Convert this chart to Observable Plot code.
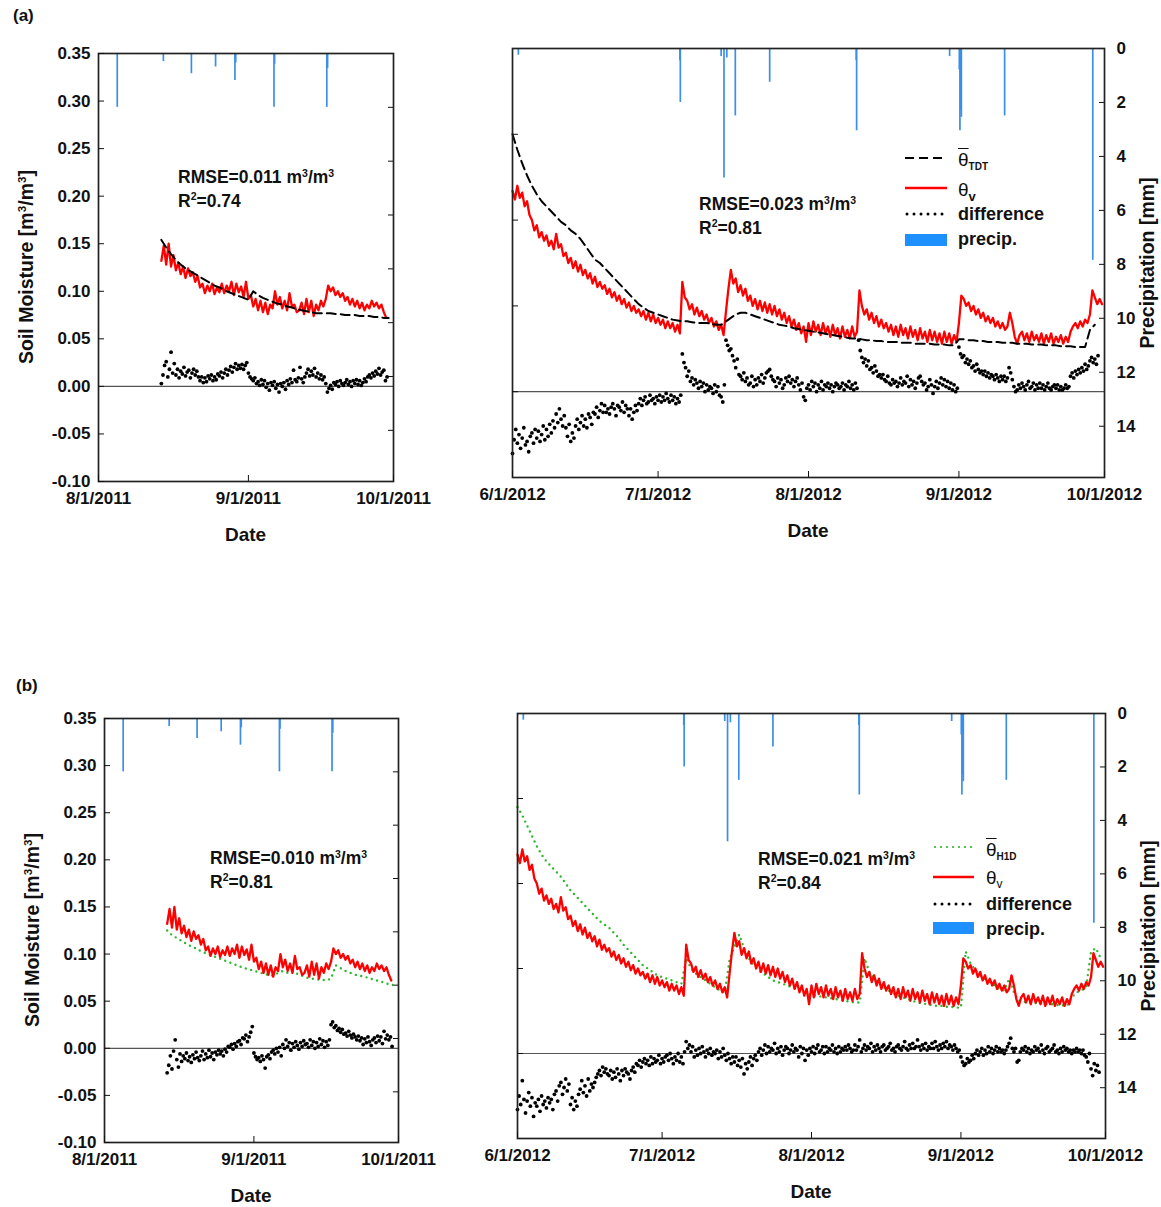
<!DOCTYPE html>
<html><head><meta charset="utf-8">
<script src="https://cdn.jsdelivr.net/npm/d3@7"></script>
<script src="https://cdn.jsdelivr.net/npm/@observablehq/plot@0.6"></script>
<style>
html,body{margin:0;padding:0;background:#fff;}
#page{position:relative;width:1161px;height:1207px;background:#fff;overflow:hidden;
 font-family:"Liberation Sans",Arial,Helvetica,sans-serif;font-weight:bold;color:#111;}
.abs{position:absolute;white-space:nowrap;}
.ctr{transform:translate(-50%,-50%);}
.rot{transform:translate(-50%,-50%) rotate(-90deg);font-size:19.5px;}
.ttl{font-size:19px;}
.ann{font-size:17.5px;line-height:21.7px;}
.sup{font-size:0.6em;position:relative;top:-0.6em;}
.lg{font-size:18px;transform:translateY(-50%);}
.th{font-weight:normal;font-size:19px;}
.sub{font-size:10px;font-weight:bold;position:relative;top:0.35em;}
</style></head>
<body><div id="page"></div>
<script>
// ---------------- DATA (moisture values in 10^-3 m3/m3) ----------------
const leftXTicks = ["2011-08-01","2011-09-01","2011-10-01"];
const rightXTicks = ["2012-06-01","2012-07-01","2012-08-01","2012-09-01","2012-10-01"];
const leftYTicks = [-0.10,-0.05,0,0.05,0.10,0.15,0.20,0.25,0.30,0.35];
const rightYTicks = [0,0.05,0.10,0.15];
const precipTicks = [0,2,4,6,8,10,12,14];

// 2011 : observed theta_v (12-hourly from 2011-08-14 00:00)
const thetaV2011 = [132,148,128,150,126,138,122,130,118,126,114,124,116,120,110,116,104,108,98,106,
100,108,97,104,99,108,98,106,100,110,96,108,99,105,94,110,92,96,84,92,80,90,78,88,76,86,82,100,86,94,
82,90,80,98,84,86,78,80,88,76,92,78,90,74,86,80,90,84,92,106,100,104,96,100,94,98,90,94,86,92,
84,90,82,88,80,86,82,90,84,88,82,86,78,72];
// 2011 : TDT mean (daily from 2011-08-14)
const thetaTDT2011 = [154,146,139,133,128,124,121,118,115,112,109,106,104,101,99,97,95,93,91,
100,96,93,91,89,87,86,84,83,81,80,79,78,77,77,77,77,76,76,75,75,75,74,74,74,73,73,72,72];
// 2011 : H1D mean (daily from 2011-08-14)
const thetaH1D2011 = [125,120,117,114,111,108,106,103,101,99,97,95,93,91,89,87,85,84,82,81,79,78,77,
80,82,80,82,79,77,75,74,73,73,72,74,88,85,82,80,78,77,76,74,73,71,70,68,67];
// 2011 : differences (8-hourly from 2011-08-14 00:00)
const diffTDT2011 = [3,12,22,26,10,18,36,14,24,12,18,9,16,13,20,11,15,17,9,14,18,12,16,10,6,10,4,9,5,11,
8,12,6,10,7,13,11,15,9,14,18,12,17,21,15,20,24,18,22,19,23,18,22,25,14,10,8,6,9,3,5,1,7,2,6,-1,3,-4,4,
1,5,-2,2,-6,3,0,4,-3,6,2,8,4,17,7,5,9,20,8,4,10,14,18,11,16,12,19,10,14,8,12,7,10,3,-6,-2,1,-3,4,
2,5,0,6,3,1,4,7,2,5,0,6,3,7,2,6,1,4,8,5,10,12,9,14,11,16,13,19,12,15,17,6,10];
const diffH1D2011 = [-26,-18,-8,-22,-3,9,-12,-20,-6,-14,-8,-11,-5,-13,-9,-15,-7,-11,-4,-10,-13,-8,-3,-12,
-6,-10,-2,-9,-5,-12,-4,-7,-2,-6,-3,-8,-1,-4,2,1,4,-1,5,2,7,8,4,11,10,14,7,12,17,23,-5,-9,-12,-10,-14,-8,
-12,-21,-9,-7,-11,-4,-2,-6,0,-4,1,-8,4,0,9,2,6,-2,5,1,7,3,-1,6,2,8,4,5,1,9,3,7,0,6,2,10,4,8,1,7,3,9,
25,28,22,24,19,21,17,20,15,16,13,18,14,11,15,12,9,13,8,11,4,10,6,12,7,3,9,11,6,13,8,12,5,18,10,14,9,12,2];
const precip2011Dates = ["2011-08-04T21:00Z","2011-08-14T10:00Z","2011-08-20T05:00Z","2011-08-25T05:00Z",
"2011-08-29T05:00Z","2011-08-29T09:00Z","2011-09-06T07:00Z","2011-09-06T10:00Z","2011-09-17T05:00Z","2011-09-17T09:00Z"];
const precip2011mm = [2.0,0.3,0.75,0.5,1.0,0.35,2.0,0.4,2.0,0.55];

// 2012 : observed theta_v (12-hourly from 2012-06-01 00:00)
const thetaV2012 = [117,112,120,113,116,108,111,103,100,94,97,90,93,88,91,85,88,83,92,84,
86,79,81,75,78,72,76,70,74,68,71,66,69,63,67,61,64,60,62,57,60,55,58,53,56,51,54,49,52,47,
50,46,48,44,47,42,46,41,45,40,43,39,42,37,41,37,40,35,39,34,64,55,53,48,51,45,49,44,47,42,
45,40,43,38,41,36,39,33,47,60,71,63,66,58,62,56,60,53,56,50,54,48,53,47,52,46,51,45,50,44,
48,42,46,40,44,38,42,36,40,34,38,29,40,33,41,35,39,33,40,34,38,32,39,33,37,31,38,32,36,31,
38,32,35,59,50,45,48,42,46,40,44,38,42,37,40,35,39,33,38,32,39,33,37,31,38,32,36,30,37,31,
35,29,36,30,35,29,34,28,35,29,34,28,33,29,40,56,54,50,52,47,50,45,48,43,46,41,44,40,43,38,
41,37,40,36,38,46,40,32,28,33,35,30,34,29,35,30,33,29,34,28,33,29,34,28,32,29,33,28,32,29,
35,38,40,37,41,38,42,40,45,59,55,51,54,51];
// 2012 : TDT mean (daily from 2012-06-01)
const thetaTDT2012 = [150,141,133,126,120,115,111,108,105,102,99,97,94,92,89,85,81,77,75,72,69,66,63,60,57,54,51,49,47,46,45,44,43,42,41.5,
41,41,40.5,40,40,40,39.5,39,39,41,43,45,46,46,
45,44,43,42,41,40,39,38.5,38,37,36.5,36,35.5,35,34.5,34,33.5,33,32.5,32,31.5,31,31,
30.5,30,30,29.5,29.5,29,29,29,28.5,28.5,28.5,28,28,28,28,27.5,27.5,27.5,27,27,
30.5,30.5,30,30,29.5,29.5,29,29,29,28.5,28.5,28.5,28,28,28,27.5,27.5,27.5,27,27,27,26.5,26.5,26.5,26,26,26,36,39];
// 2012 : H1D mean (daily from 2012-06-01)
const thetaH1D2012 = [145,140,134,128,122,117,113,110,107,104,100,96,93,90,87,84,81,78,76,74,71,68,64,61,58,55,52,50,48,46,45,44,43,42,41,
56,50,47,45,43,41,39,37,36,
55,63,70,62,56,52,49,47,45,43,42,41,40,39,38,
36,35,34.5,34,33.5,33,32.5,32,31.5,31,30.5,30,
30,56,48,44,41,39,37,35.5,34,33,32,31,30,29.5,29,28.5,28,28,27.5,27.5,27,
27,60,53,49,46,44,42,40,38,37,44,36,
31,30.5,30,30,29.5,29.5,29,29,28.5,28.5,28,
33,36,37,39,60,62,56];
// 2012 : differences (8-hourly from 2012-06-01 00:00)
const diffTDT2012 = [-36,-28,-22,-30,-25,-33,-27,-21,-31,-29,-35,-26,-24,-30,-22,-27,-23,-29,-25,-20,-28,
-22,-26,-19,-24,-17,-21,-13,-18,-10,-16,-20,-14,-21,-26,-19,-29,-24,-27,-20,-16,-22,-18,-14,-20,
-16,-21,-13,-15,-19,-12,-13,-9,-15,-11,-7,-12,-8,-12,-10,-13,-9,-7,-10,-14,-8,-9,-11,-6,-12,-8,-10,
-14,-10,-16,-12,-8,-11,-7,-4,-8,-5,-3,-7,-6,-2,-5,-4,-7,-3,-5,-2,-6,-3,-5,-1,-4,-6,-2,-5,-3,-7,
-4,-6,-2,22,17,14,9,12,6,8,4,7,5,2,6,3,5,0,4,1,3,2,-1,4,0,3,-2,-3,-6,4,30,27,24,25,21,18,
14,19,10,9,7,11,6,8,4,5,9,3,7,4,8,6,10,5,8,11,12,13,9,7,6,3,8,5,7,2,4,8,6,9,5,7,3,6,8,4,1,5,
-3,-5,2,4,1,6,3,5,0,4,2,6,1,4,3,5,2,4,0,3,5,4,2,3,5,1,4,3,6,2,4,1,5,2,30,24,20,17,19,15,18,13,
14,11,15,12,9,10,8,10,7,6,9,5,4,7,5,6,3,5,8,4,6,5,9,3,7,4,6,2,5,8,9,6,4,5,1,3,7,4,-1,3,6,2,
5,8,4,7,3,6,2,5,1,4,0,2,26,22,20,21,17,19,16,18,14,15,12,16,13,11,12,10,12,9,11,8,10,9,7,10,
8,6,9,7,9,6,8,14,11,7,3,0,1,4,2,5,3,1,4,6,2,3,5,1,4,2,5,2,4,1,3,5,2,1,3,4,2,4,1,3,1,2,4,2,3,
9,11,8,12,10,13,11,14,12,16,13,15,18,20,17,19,16,21];
const diffH1D2012 = [-33,-25,-30,-16,-27,-35,-28,-23,-31,-26,-37,-29,-31,-27,-34,-25,-30,-28,-32,-26,-29,
-27,-33,-24,-22,-28,-19,-17,-24,-20,-15,-22,-18,-30,-26,-33,-28,-31,-24,-21,-16,-23,-19,-25,-15,
-22,-18,-20,-17,-14,-12,-10,-13,-8,-11,-9,-12,-13,-10,-15,-11,-14,-9,-12,-16,-10,-13,-9,-11,
-12,-15,-10,-8,-11,-6,-7,-4,-8,-5,-3,-6,-4,-7,-2,-6,-3,-5,-4,-1,-6,-3,-5,-2,-1,-4,0,-3,-6,-2,
-4,0,-5,-2,-6,1,7,3,5,1,4,-2,2,-1,3,0,4,1,-2,2,0,3,-1,1,0,2,-3,1,-2,3,-1,-4,0,-3,-6,-2,-5,-2,-7,
-4,-8,-3,-12,-6,-9,-5,-2,-7,-3,-1,-4,1,3,-1,2,5,0,4,1,3,2,6,0,3,1,4,-1,2,4,3,0,2,5,1,3,2,-2,4,
0,3,-4,2,-1,3,1,4,0,3,5,1,2,4,0,4,1,3,2,5,1,3,0,4,1,3,2,4,2,5,3,1,2,5,2,4,8,1,3,5,2,4,3,6,1,
4,2,5,3,1,4,5,2,3,4,6,2,3,1,4,5,3,2,4,7,3,2,5,3,6,3,4,8,4,2,5,3,6,2,4,3,6,3,7,4,2,5,3,6,4,
7,3,5,4,2,5,3,1,2,-2,-5,-7,-6,-3,-5,-4,-1,-3,0,2,-1,1,3,-1,2,0,4,1,3,0,2,4,1,3,1,2,0,2,4,
6,9,3,1,3,-5,-4,1,3,2,4,1,3,0,2,1,4,2,3,1,5,2,0,3,4,1,2,3,5,1,2,0,3,1,4,2,3,1,2,0,2,1,3,1,2,
0,2,-1,-2,-5,0,-9,-13,-6,-10,-7,-11];
const precip2012Dates = ["2012-06-02T05:00Z","2012-07-05T12:00Z","2012-07-05T14:00Z","2012-07-14T00:00Z",
"2012-07-14T14:00Z","2012-07-15T04:00Z","2012-07-16T22:00Z","2012-07-24T00:00Z","2012-08-10T20:00Z",
"2012-08-10T22:00Z","2012-08-30T02:00Z","2012-09-01T02:00Z","2012-09-01T05:00Z","2012-09-01T09:00Z",
"2012-09-01T12:00Z","2012-09-10T10:00Z","2012-09-28T14:00Z"];
const precip2012mm = [0.25,0.45,2.0,0.3,4.8,0.35,2.5,1.25,0.45,3.05,0.3,0.8,3.05,2.3,2.55,2.5,7.85];

// ---------------- helpers ----------------
const HOUR = 3600e3;
const rows = (start, stepH, vals) => vals.map((v, i) => ({date: new Date(Date.parse(start) + i * stepH * HOUR), v: v / 1000}));
const precipRows = (dates, mm) => dates.map((d, i) => ({date: new Date(d), mm: mm[i]}));
const fmtDate = d => `${d.getUTCMonth() + 1}/${d.getUTCDate()}/${d.getUTCFullYear()}`;
const FONT = '"Liberation Sans", Arial, Helvetica, sans-serif';
const page = document.getElementById("page");

const v2011 = rows("2011-08-14T00:00Z", 12, thetaV2011);
const tdt2011 = rows("2011-08-14T00:00Z", 24, thetaTDT2011);
const h1d2011 = rows("2011-08-14T00:00Z", 24, thetaH1D2011);
const dT2011 = rows("2011-08-14T00:00Z", 8, diffTDT2011);
const dH2011 = rows("2011-08-14T00:00Z", 8, diffH1D2011);
const v2012 = rows("2012-06-01T00:00Z", 12, thetaV2012);
const tdt2012 = rows("2012-06-01T00:00Z", 24, thetaTDT2012);
const h1d2012 = rows("2012-06-01T00:00Z", 24, thetaH1D2012);
const dT2012 = rows("2012-06-01T00:00Z", 8, diffTDT2012);
const dH2012 = rows("2012-06-01T00:00Z", 8, diffH1D2012);
const p2011 = precipRows(precip2011Dates, precip2011mm);
const p2012 = precipRows(precip2012Dates, precip2012mm);

const redLine = d => Plot.line(d, {x: "date", y: "v", stroke: "#ff0000", strokeWidth: 2.3});
const dashLine = d => Plot.line(d, {x: "date", y: "v", stroke: "#000", strokeWidth: 2, strokeDasharray: "9,5"});
const greenLine = d => Plot.line(d, {x: "date", y: "v", stroke: "#2db82d", strokeWidth: 2.4, strokeDasharray: "0,5.5", strokeLinecap: "round"});
const diffDots = d => Plot.dot(d, {x: "date", y: "v", r: 1.9, fill: "#000", stroke: "none"});

function addPanel(cfg) {
  const {L, T, W, H} = cfg;
  const ML = 70, MR = 70, MT = 10, MB = 40;
  const width = W + ML + MR, height = H + MT + MB;
  const box = document.createElement("div");
  box.className = "abs";
  box.style.cssText += `left:${L - ML}px;top:${T - MT}px;width:${width}px;height:${height}px;`;
  const style = {background: "transparent", fontFamily: FONT, fontSize: "17px", fontWeight: "bold",
    color: "#111", overflow: "visible", maxWidth: "none", position: "absolute", left: "0px", top: "0px"};
  const base = {width, height, marginLeft: ML, marginRight: MR, marginTop: MT, marginBottom: MB, style};
  const xDomain = [new Date(cfg.xTicks[0]), new Date(cfg.xTicks[cfg.xTicks.length - 1])];
  const pr = Plot.plot({...base,
    x: {type: "utc", domain: xDomain, axis: null},
    y: {domain: [0, 15.9], reverse: true},
    marks: [
      Plot.ruleX(cfg.precip, {x: "date", y1: 0, y2: "mm", stroke: "#3b8fe8", strokeWidth: 1.7}),
      Plot.axisY({anchor: "right", ticks: cfg.precipLabels ? precipTicks : precipTicks.slice(1), tickSize: -6, tickPadding: 18,
        tickFormat: cfg.precipLabels ? (d => String(d)) : (() => ""), label: null})
    ]});
  const sm = Plot.plot({...base,
    x: {type: "utc", domain: xDomain},
    y: {domain: cfg.yDomain},
    marks: [
      Plot.ruleY([0], {stroke: "#555", strokeWidth: 1.2}),
      ...cfg.marks,
      Plot.frame({stroke: "#222", strokeWidth: 1.7}),
      Plot.axisY({anchor: "left", ticks: cfg.yTicks, tickSize: -6, tickPadding: 14,
        tickFormat: cfg.yLabels ? (d => d.toFixed(2)) : (() => ""), label: null}),
      Plot.axisX({anchor: "bottom", ticks: cfg.xTicks.map(d => new Date(d)), tickSize: -6, tickPadding: 16,
        tickFormat: fmtDate, label: null})
    ]});
  box.append(pr, sm);
  page.append(box);
  // axis titles
  addText(`<span class="ttl">Date</span>`, L + W / 2, T + H + 54, "ctr");
  if (cfg.yLabels) addText(`Soil Moisture [m<span class="sup">3</span>/m<span class="sup">3</span>]`, L - 72, T + H / 2, "rot");
  if (cfg.precipLabels) addText(`Precipitation [mm]`, L + W + 43, T + H / 2, "rot");
}
function addText(html, x, y, cls) {
  const d = document.createElement("div");
  d.className = "abs " + (cls || "");
  d.style.left = x + "px"; d.style.top = y + "px";
  d.innerHTML = html;
  page.append(d);
  return d;
}
function annot(x, top, rmse, r2) {
  addText(`RMSE=${rmse} m<span class="sup">3</span>/m<span class="sup">3</span><br>R<span class="sup">2</span>=${r2}`, x, top, "ann");
}
function legend(x0, w, tx, items) {
  for (const it of items) {
    const s = document.createElement("div");
    s.className = "abs";
    s.style.left = x0 + "px"; s.style.top = (it.y - 7) + "px";
    let sym = "";
    if (it.kind === "dash") sym = `<line x1="0" y1="7" x2="${w}" y2="7" stroke="#000" stroke-width="2.2" stroke-dasharray="9,5"/>`;
    if (it.kind === "red") sym = `<line x1="0" y1="7" x2="${w}" y2="7" stroke="#ff0000" stroke-width="2.5"/>`;
    if (it.kind === "dots") sym = `<line x1="2" y1="7" x2="${w}" y2="7" stroke="#000" stroke-width="3" stroke-dasharray="0,7" stroke-linecap="round"/>`;
    if (it.kind === "green") sym = `<line x1="2" y1="7" x2="${w}" y2="7" stroke="#2db82d" stroke-width="2.2" stroke-dasharray="0,6" stroke-linecap="round"/>`;
    if (it.kind === "rect") sym = `<rect x="0" y="1" width="${w}" height="12" fill="#1e8fff"/>`;
    s.innerHTML = `<svg width="${w + 2}" height="14" style="display:block">${sym}</svg>`;
    page.append(s);
    addText(it.label, tx, it.ty, "lg");
  }
}

// ---------------- panels ----------------
addPanel({L: 98, T: 53, W: 295, H: 428, xTicks: leftXTicks, yDomain: [-0.10, 0.35], yTicks: leftYTicks, yLabels: true,
  precip: p2011, precipLabels: false, marks: [redLine(v2011), dashLine(tdt2011), diffDots(dT2011)]});
addPanel({L: 512, T: 48, W: 592, H: 429, xTicks: rightXTicks, yDomain: [-0.05, 0.20], yTicks: rightYTicks, yLabels: false,
  precip: p2012, precipLabels: true, marks: [redLine(v2012), dashLine(tdt2012), diffDots(dT2012)]});
addPanel({L: 104, T: 718, W: 294, H: 424, xTicks: leftXTicks, yDomain: [-0.10, 0.35], yTicks: leftYTicks, yLabels: true,
  precip: p2011, precipLabels: false, marks: [greenLine(h1d2011), redLine(v2011), diffDots(dH2011)]});
addPanel({L: 517, T: 713, W: 588, H: 425, xTicks: rightXTicks, yDomain: [-0.05, 0.20], yTicks: rightYTicks, yLabels: false,
  precip: p2012, precipLabels: true, marks: [greenLine(h1d2012), redLine(v2012), diffDots(dH2012)]});

// panel tags
addText(`<span style="font-size:17px">(a)</span>`, 13, 6);
addText(`<span style="font-size:17px">(b)</span>`, 16, 676);

// statistics
annot(178, 167, "0.011", "0.74");
annot(699, 194, "0.023", "0.81");
annot(210, 848, "0.010", "0.81");
annot(758, 849, "0.021", "0.84");

// legends
legend(905, 42, 958, [
  {kind: "dash", y: 158, ty: 160, label: `<span class="th" style="text-decoration:overline">θ</span><span class="sub">TDT</span>`},
  {kind: "red", y: 188, ty: 190, label: `<span class="th">θ</span><span class="sub" style="font-size:13px">v</span>`},
  {kind: "dots", y: 214, ty: 214, label: `difference`},
  {kind: "rect", y: 239.5, ty: 239, label: `precip.`}
]);
legend(933, 41, 986, [
  {kind: "green", y: 847, ty: 850, label: `<span class="th" style="text-decoration:overline">θ</span><span class="sub">H1D</span>`},
  {kind: "red", y: 877, ty: 878, label: `<span class="th">θ</span><span class="sub" style="font-size:12px;font-weight:normal">v</span>`},
  {kind: "dots", y: 904, ty: 904, label: `difference`},
  {kind: "rect", y: 928, ty: 929, label: `precip.`}
]);
</script>
</body></html>
